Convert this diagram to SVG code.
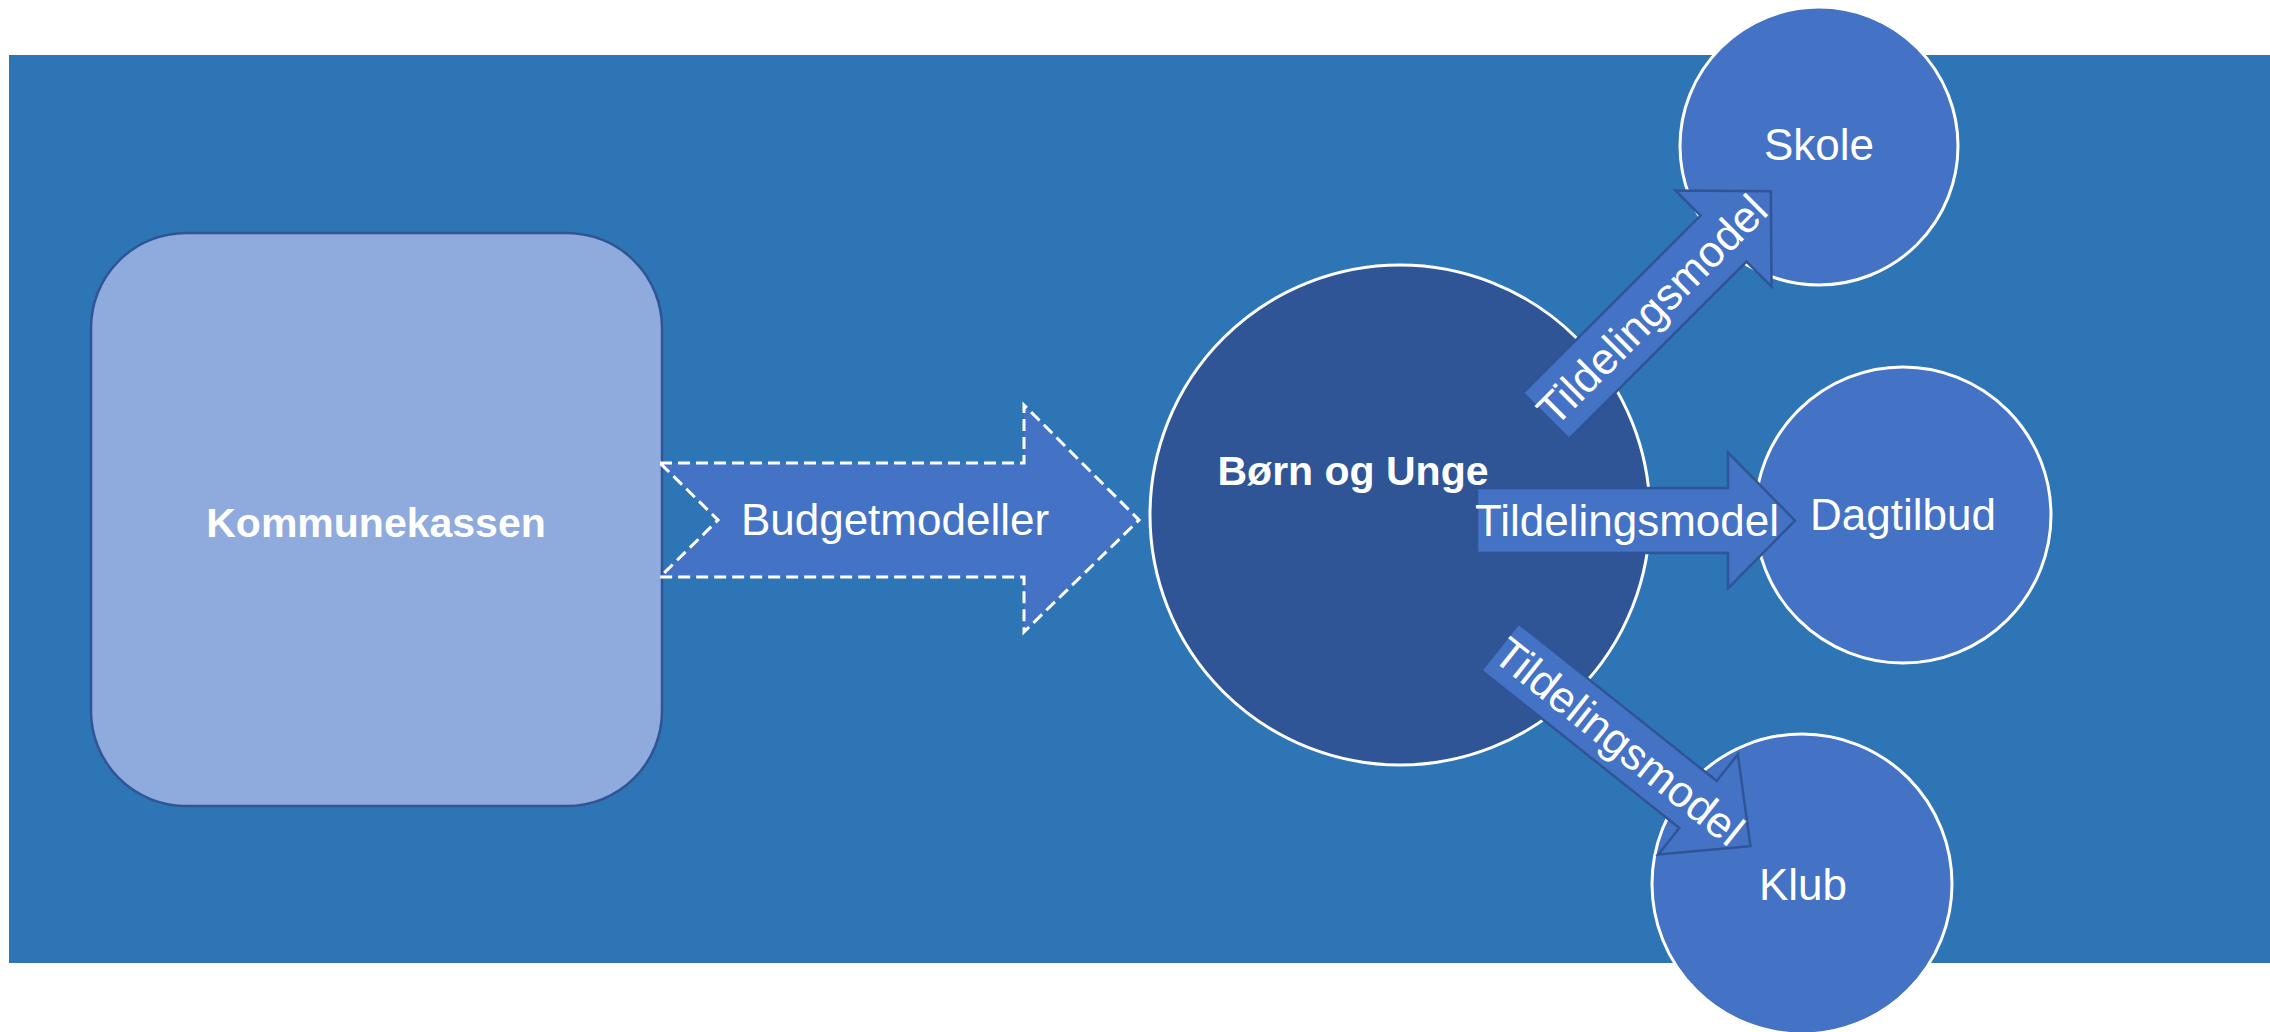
<svg xmlns="http://www.w3.org/2000/svg" width="2270" height="1032" viewBox="0 0 2270 1032">
<defs>
<style>
.lbl{font-family:"Liberation Sans",Arial,sans-serif;fill:#fff;font-size:44px;text-anchor:middle}
.bold{font-weight:bold;font-size:41px}
.sub{fill:#4472C4;stroke:#fff;stroke-width:3}
.arr{fill:#4472C4;stroke:#2F5597;stroke-width:2.5;stroke-linejoin:miter}
</style>
<path id="arrowShape" d="M0,-32.5 L251,-32.5 L251,-68 L318,0 L251,68 L251,32.5 L0,32.5 Z"/>
<path id="arrowShapeNarrow" d="M0,-30 L253,-30 L253,-64 L320,0 L253,64 L253,30 L0,30 Z"/>
</defs>
<rect x="9" y="55" width="2261" height="908" fill="#2E75B6"/>
<g id="kommunekassen">
<rect x="91" y="233" width="571" height="573" rx="95" ry="95" fill="#8FAADC" stroke="#2F5597" stroke-width="2.5"/>
<text class="lbl bold" x="376" y="537">Kommunekassen</text>
</g>
<g id="born-og-unge">
<circle cx="1400" cy="515" r="250" fill="#2F5597" stroke="#fff" stroke-width="3"/>
<text class="lbl bold" x="1353" y="485">Børn og Unge</text>
</g>
<g id="skole">
<circle class="sub" cx="1819" cy="146" r="139"/>
<text class="lbl" x="1819" y="160">Skole</text>
</g>
<g id="dagtilbud">
<circle class="sub" cx="1903" cy="515" r="148"/>
<text class="lbl" x="1903" y="530">Dagtilbud</text>
</g>
<g id="klub">
<circle class="sub" cx="1802" cy="884" r="150"/>
<text class="lbl" x="1803" y="900">Klub</text>
</g>
<g id="connectors">
<g id="budgetmodeller">
<path d="M660,463 L1024,463 L1024,405 L1139,520 L1024,632 L1024,577 L660,577 L718,520 Z" fill="#4472C4" stroke="#fff" stroke-width="3" stroke-dasharray="12 6"/>
<text class="lbl" x="895" y="535">Budgetmodeller</text>
</g>
<g id="tildeling-skole" transform="translate(1546,416) rotate(-45)">
<use href="#arrowShape" class="arr"/>
<text class="lbl" x="150" y="15">Tildelingsmodel</text>
</g>
<g id="tildeling-dagtilbud" transform="translate(1477,520.5)">
<use href="#arrowShape" class="arr"/>
<text class="lbl" x="150" y="15">Tildelingsmodel</text>
</g>
<g id="tildeling-klub" transform="translate(1500,647) rotate(38.5)">
<use href="#arrowShapeNarrow" class="arr"/>
<text class="lbl" x="152" y="15">Tildelingsmodel</text>
</g>
</g>
</svg>
